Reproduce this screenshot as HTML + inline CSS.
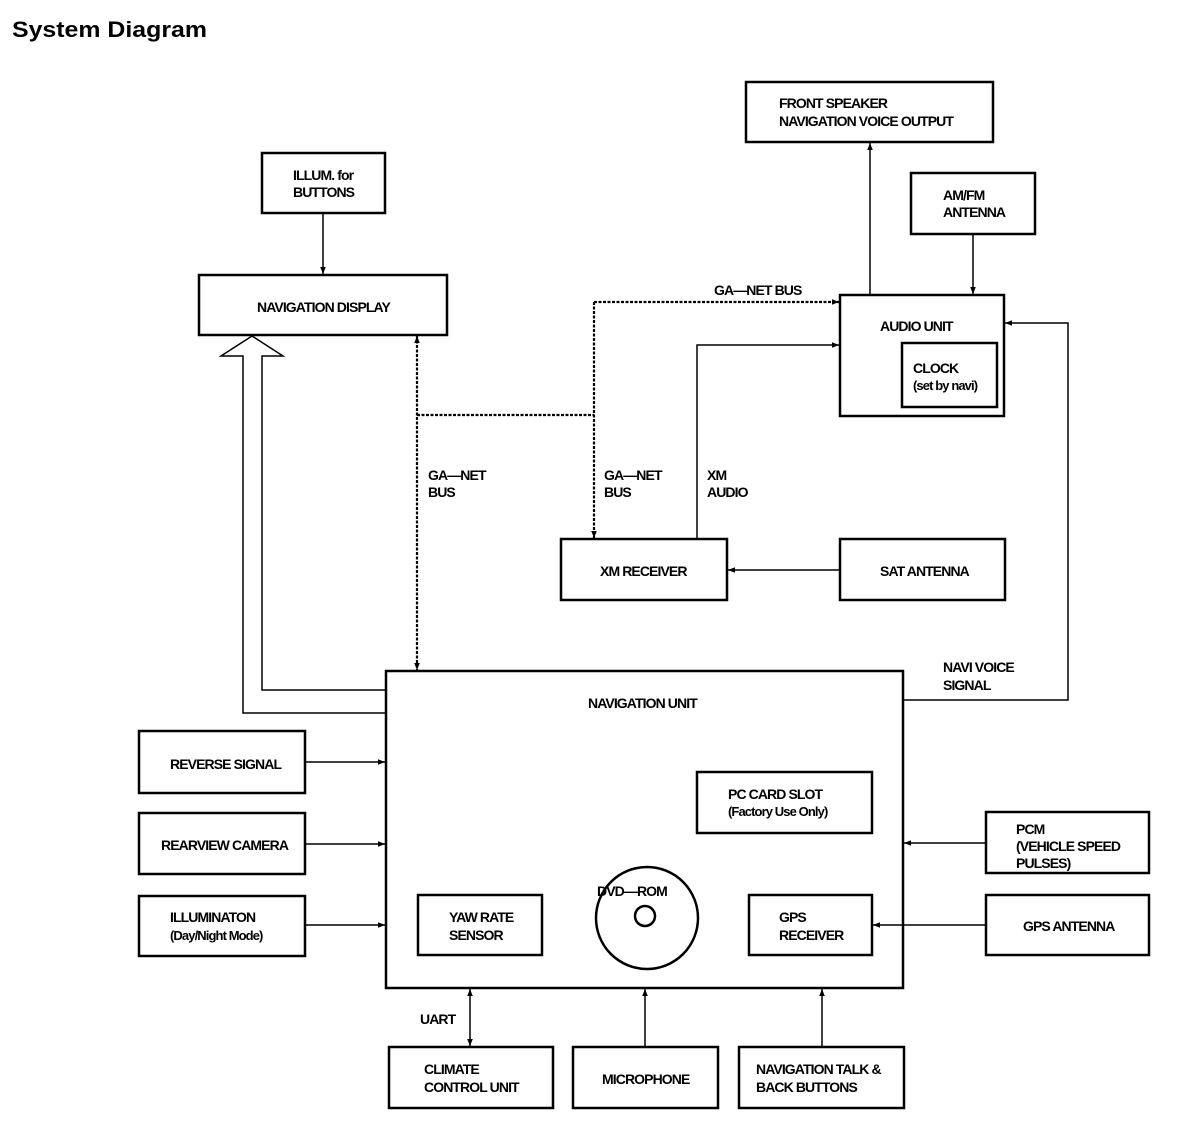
<!DOCTYPE html>
<html><head><meta charset="utf-8"><style>
html,body{margin:0;padding:0;background:#fff;}
svg{display:block;}
text{font-family:"Liberation Sans",sans-serif;font-weight:bold;font-size:14px;letter-spacing:-0.9px;fill:#000;}
.b{fill:none;stroke:#000;stroke-width:2.5;}
.l{fill:none;stroke:#000;stroke-width:1.5;}
.w{fill:none;stroke:#000;stroke-width:2.2;stroke-dasharray:3 1.5;}
</style></head><body>
<svg width="1200" height="1146" viewBox="0 0 1200 1146" xmlns="http://www.w3.org/2000/svg">
<defs>
<marker id="a" viewBox="0 0 10 10" refX="10" refY="5" markerWidth="7" markerHeight="7" markerUnits="userSpaceOnUse" orient="auto-start-reverse"><path d="M0,1 L10,5 L0,9 z" fill="#000"/></marker>
</defs>
<text x="12" y="37" style="font-size:22px;letter-spacing:0" textLength="195" lengthAdjust="spacingAndGlyphs">System Diagram</text>

<!-- boxes -->
<rect class="b" x="746" y="82" width="247" height="60"/>
<text x="779" y="108">FRONT SPEAKER</text><text x="779" y="126">NAVIGATION VOICE OUTPUT</text>
<rect class="b" x="911" y="173" width="124" height="61"/>
<text x="943" y="200">AM/FM</text><text x="943" y="217">ANTENNA</text>
<rect class="b" x="262" y="153" width="123" height="60"/>
<text x="293" y="180">ILLUM. for</text><text x="293" y="197">BUTTONS</text>
<rect class="b" x="199" y="275" width="248" height="60"/>
<text x="257" y="312">NAVIGATION DISPLAY</text>
<rect class="b" x="840" y="295" width="164" height="121"/>
<text x="880" y="331">AUDIO UNIT</text>
<rect class="b" x="902" y="343" width="95" height="64"/>
<text x="913" y="373">CLOCK</text><text x="913" y="390" style="font-size:13px">(set by navi)</text>
<rect class="b" x="561" y="539" width="166" height="61"/>
<text x="600" y="576">XM RECEIVER</text>
<rect class="b" x="840" y="539" width="165" height="61"/>
<text x="880" y="576">SAT ANTENNA</text>

<rect class="b" x="386" y="671" width="517" height="317"/>
<text x="588" y="708">NAVIGATION UNIT</text>
<rect class="b" x="697" y="772" width="175" height="61"/>
<text x="728" y="799">PC CARD SLOT</text><text x="728" y="816" style="font-size:13px">(Factory Use Only)</text>
<rect class="b" x="418" y="895" width="124" height="60"/>
<text x="449" y="922">YAW RATE</text><text x="449" y="940">SENSOR</text>
<rect class="b" x="749" y="895" width="123" height="60"/>
<text x="779" y="922">GPS</text><text x="779" y="940">RECEIVER</text>
<circle class="b" cx="647" cy="918" r="51"/>
<circle class="b" cx="645" cy="916" r="10"/>
<text x="597" y="896">DVD—ROM</text>

<rect class="b" x="139" y="731" width="166" height="62"/>
<text x="170" y="769">REVERSE SIGNAL</text>
<rect class="b" x="139" y="813" width="166" height="61"/>
<text x="161" y="850">REARVIEW CAMERA</text>
<rect class="b" x="139" y="896" width="166" height="60"/>
<text x="170" y="922">ILLUMINATON</text><text x="170" y="940" style="font-size:13px">(Day/Night Mode)</text>
<rect class="b" x="986" y="812" width="163" height="61"/>
<text x="1016" y="834">PCM</text><text x="1016" y="851">(VEHICLE SPEED</text><text x="1016" y="868">PULSES)</text>
<rect class="b" x="986" y="895" width="163" height="60"/>
<text x="1023" y="931">GPS ANTENNA</text>
<rect class="b" x="389" y="1047" width="164" height="61"/>
<text x="424" y="1074">CLIMATE</text><text x="424" y="1092">CONTROL UNIT</text>
<rect class="b" x="573" y="1047" width="145" height="61"/>
<text x="602" y="1084">MICROPHONE</text>
<rect class="b" x="739" y="1047" width="165" height="61"/>
<text x="756" y="1074">NAVIGATION TALK &amp;</text><text x="756" y="1092">BACK BUTTONS</text>

<!-- connectors -->
<line class="l" x1="323" y1="213" x2="323" y2="274" marker-end="url(#a)"/>
<line class="l" x1="870" y1="295" x2="870" y2="143" marker-end="url(#a)"/>
<line class="l" x1="973" y1="234" x2="973" y2="294" marker-end="url(#a)"/>
<path class="l" d="M697,539 V345 H839" marker-end="url(#a)"/>
<line class="l" x1="840" y1="570" x2="728" y2="570" marker-end="url(#a)"/>
<path class="l" d="M903,700 H1068 V323 H1005" marker-end="url(#a)"/>
<line class="l" x1="305" y1="762" x2="385" y2="762" marker-end="url(#a)"/>
<line class="l" x1="305" y1="844" x2="385" y2="844" marker-end="url(#a)"/>
<line class="l" x1="305" y1="925" x2="385" y2="925" marker-end="url(#a)"/>
<line class="l" x1="986" y1="843" x2="904" y2="843" marker-end="url(#a)"/>
<line class="l" x1="986" y1="925" x2="873" y2="925" marker-end="url(#a)"/>
<line class="l" x1="470" y1="989" x2="470" y2="1046" marker-start="url(#a)" marker-end="url(#a)"/>
<line class="l" x1="645" y1="1047" x2="645" y2="989" marker-end="url(#a)"/>
<line class="l" x1="822" y1="1047" x2="822" y2="989" marker-end="url(#a)"/>
<text x="420" y="1024">UART</text>

<!-- GA-NET wavy -->
<line class="w" x1="417" y1="336" x2="417" y2="670" marker-start="url(#a)" marker-end="url(#a)"/>
<line class="w" x1="417" y1="415" x2="594" y2="415"/>
<line class="w" x1="594" y1="302" x2="594" y2="538" marker-end="url(#a)"/>
<line class="w" x1="594" y1="302" x2="839" y2="302" marker-end="url(#a)"/>
<text x="714" y="295">GA—NET BUS</text>
<text x="428" y="480">GA—NET</text><text x="428" y="497">BUS</text>
<text x="604" y="480">GA—NET</text><text x="604" y="497">BUS</text>
<text x="707" y="480">XM</text><text x="707" y="497">AUDIO</text>
<text x="943" y="672">NAVI VOICE</text><text x="943" y="690">SIGNAL</text>

<!-- hollow arrow -->
<path class="l" d="M386,713 H243 V356 H221 L252,336 L283,356 H262 V690 H386"/>
</svg>
</body></html>
